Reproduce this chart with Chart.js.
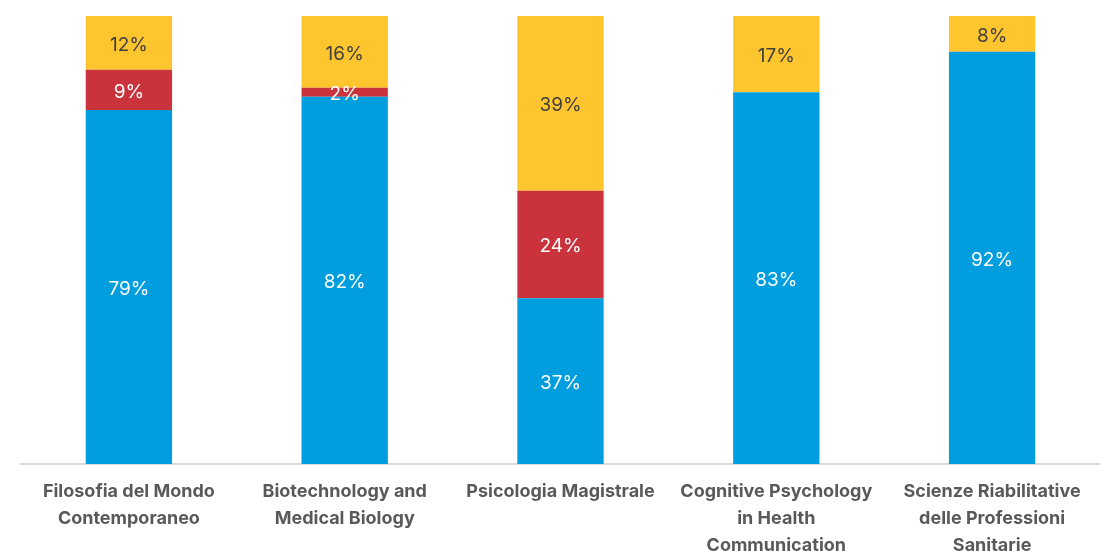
<!DOCTYPE html>
<html>
<head>
<meta charset="utf-8">
<script src="https://cdn.jsdelivr.net/npm/chart.js@4/dist/chart.umd.min.js"></script>
<style>
  html, body { margin: 0; padding: 0; background: #fff; overflow: hidden; }
  #wrap { width: 1100px; height: 551px; }
</style>
</head>
<body>
<div id="wrap"><canvas id="chart"></canvas></div>
<script>
// ===== DATA =====
const courses = [
  ["Filosofia del Mondo", "Contemporaneo"],
  ["Biotechnology and", "Medical Biology"],
  "Psicologia Magistrale",
  ["Cognitive Psychology", "in Health", "Communication"],
  ["Scienze Riabilitative", "delle Professioni", "Sanitarie"]
];
const blueVals = [79, 82, 37, 83, 92];
const redVals = [9, 2, 24, 0, 0];
const yellowVals = [12, 16, 39, 17, 8];

const BLUE = "#009ddf";
const RED = "#ca333b";
const YELLOW = "#ffc52e";
const FONT = "Inter, 'Noto Sans', sans-serif";

// ===== VALUE LABELS (centre of each segment) =====
const segLabels = {
  id: "segLabels",
  afterDatasetsDraw(chart){
    const ctx = chart.ctx;
    ctx.save();
    ctx.font = "400 19px " + FONT;
    ctx.textAlign = "center";
    ctx.textBaseline = "middle";
    chart.data.datasets.forEach((ds, i) => {
      chart.getDatasetMeta(i).data.forEach((bar, j) => {
        const v = ds.data[j];
        if(!v) return;
        ctx.fillStyle = ds.labelColor;
        ctx.fillText(v + "%", bar.x, (bar.y + bar.base) / 2 + 2);
      });
    });
    ctx.restore();
  }
};

new Chart(document.getElementById("chart"), {
  type: "bar",
  data: {
    labels: courses,
    datasets: [
      { data: blueVals, backgroundColor: BLUE, labelColor: "#ffffff" },
      { data: redVals, backgroundColor: RED, labelColor: "#ffffff" },
      { data: yellowVals, backgroundColor: YELLOW, labelColor: "#404040" }
    ]
  },
  options: {
    responsive: true,
    maintainAspectRatio: false,
    animation: false,
    layout: { padding: { left: 21, right: 0, top: 16, bottom: -22 } },
    datasets: { bar: { barPercentage: 0.4, categoryPercentage: 1 } },
    plugins: { legend: { display: false }, tooltip: { enabled: false } },
    scales: {
      x: {
        stacked: true,
        grid: { display: false, drawTicks: false },
        border: { color: "#d9d9d9", width: 2 },
        ticks: {
          color: "#595959",
          autoSkip: false,
          maxRotation: 0,
          padding: 14,
          font: { family: FONT, size: 18, weight: "700", lineHeight: 1.5 }
        }
      },
      y: {
        stacked: true,
        display: false,
        min: 0,
        max: 100
      }
    }
  },
  plugins: [segLabels]
});
</script>
</body>
</html>
